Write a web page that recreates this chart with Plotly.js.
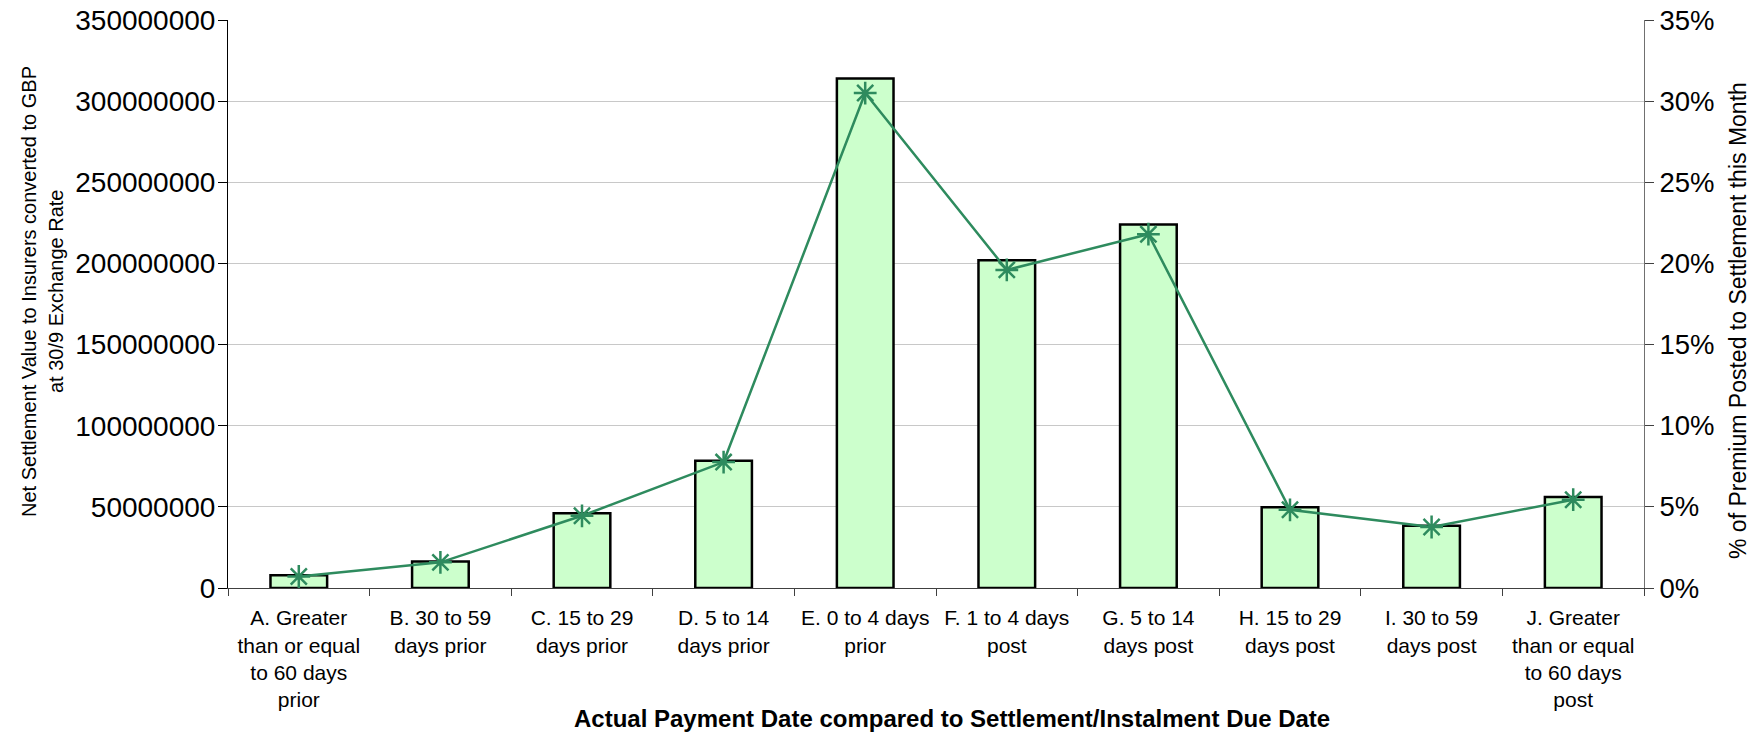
<!DOCTYPE html>
<html>
<head>
<meta charset="utf-8">
<script src="https://cdn.plot.ly/plotly-3.0.1.min.js"></script>
<style>html,body{margin:0;padding:0;background:#fff;}#chart{width:1760px;height:733px;}</style>
</head>
<body>
<div id="chart"></div>
<script>
// Data
const categories = [
  "A. Greater<br>than or equal<br>to 60 days<br>prior",
  "B. 30 to 59<br>days prior",
  "C. 15 to 29<br>days prior",
  "D. 5 to 14<br>days prior",
  "E. 0 to 4 days<br>prior",
  "F. 1 to 4 days<br>post",
  "G. 5 to 14<br>days post",
  "H. 15 to 29<br>days post",
  "I. 30 to 59<br>days post",
  "J. Greater<br>than or equal<br>to 60 days<br>post"
];
const netSettlementGBP = [7800000, 16400000, 46000000, 78400000, 314000000, 202000000, 224000000, 49700000, 38400000, 56100000];
const pctPremiumPosted = [0.71, 1.58, 4.45, 7.76, 30.5, 19.6, 21.8, 4.82, 3.76, 5.44];

const leftTitleLine1 = "Net Settlement Value to Insurers converted to GBP";
const leftTitleLine2 = "at 30/9 Exchange Rate";
const rightTitle = "% of Premium Posted to Settlement this Month";
const xTitle = "Actual Payment Date compared to Settlement/Instalment Due Date";

const FONT = "Liberation Sans, Arial, sans-serif";
const L = 228, R = 1644, T = 20, B = 588;
const W = R - L;
function px2paper(px){ return (px - L) / W; }
function py2paper(py){ return (B - py) / (B - T); }

const traces = [
  {
    type: "bar", x: categories, y: netSettlementGBP, yaxis: "y",
    marker: {color: "#CCFFCC", line: {color: "#000000", width: 2.5}},
    hoverinfo: "x+y"
  },
  {
    type: "scatter", mode: "lines+markers", x: categories, y: pctPremiumPosted, yaxis: "y2",
    line: {color: "#2E8B5E", width: 2.5},
    marker: {symbol: "asterisk-open", size: 19, color: "#2E8B5E", line: {color: "#2E8B5E", width: 2.5}}
  }
];

const layout = {
  width: 1760, height: 733,
  margin: {l: L, r: 1760 - R, t: T, b: 733 - B, pad: 0},
  paper_bgcolor: "#ffffff", plot_bgcolor: "#ffffff",
  showlegend: false,
  bargap: 0.6,
  font: {family: FONT, color: "#000000"},
  xaxis: {
    type: "category",
    range: [-0.5, 9.5], autorange: false,
    tickson: "boundaries",
    ticks: "outside", ticklen: 7, tickcolor: "#404040", tickwidth: 1,
    showline: true, linecolor: "#404040", linewidth: 1,
    showgrid: false, zeroline: false,
    tickfont: {family: FONT, size: 21, color: "#000000"},
    ticklabelstandoff: 11,
    tickangle: 0,
    automargin: false
  },
  yaxis: {
    range: [0, 350000000], autorange: false, dtick: 50000000, tick0: 0,
    tickformat: "d",
    ticks: "outside", ticklen: 9, tickcolor: "#000000", tickwidth: 1,
    showline: true, linecolor: "#000000", linewidth: 1,
    showgrid: true, gridcolor: "#c8c8c8", gridwidth: 1,
    zeroline: false,
    tickfont: {family: FONT, size: 28, color: "#000000"},
    ticklabelstandoff: -3,
    automargin: false
  },
  yaxis2: {
    overlaying: "y", side: "right", anchor: "x",
    range: [0, 35], autorange: false, dtick: 5, tick0: 0, ticksuffix: "%",
    ticks: "outside", ticklen: 9, tickcolor: "#404040", tickwidth: 1,
    showline: true, linecolor: "#707070", linewidth: 1,
    showgrid: false, zeroline: false,
    tickfont: {family: FONT, size: 27.5, color: "#000000"},
    automargin: false
  },
  yaxis3: {
    overlaying: "y", side: "right", anchor: "x",
    range: [0, 35], autorange: false, dtick: 5, tick0: 0,
    ticks: "inside", ticklen: 9, tickcolor: "#404040", tickwidth: 1,
    showticklabels: false, showline: false, showgrid: false, zeroline: false
  },
  annotations: [
    {text: leftTitleLine1, xref: "paper", yref: "paper", x: px2paper(29), y: py2paper(292),
     xanchor: "center", yanchor: "middle", textangle: -90, showarrow: false,
     font: {family: FONT, size: 20, color: "#000000"}},
    {text: leftTitleLine2, xref: "paper", yref: "paper", x: px2paper(56), y: py2paper(292),
     xanchor: "center", yanchor: "middle", textangle: -90, showarrow: false,
     font: {family: FONT, size: 20, color: "#000000"}},
    {text: rightTitle, xref: "paper", yref: "paper", x: px2paper(1738), y: py2paper(321),
     xanchor: "center", yanchor: "middle", textangle: -90, showarrow: false,
     font: {family: FONT, size: 23, color: "#000000"}},
    {text: "<b>" + xTitle + "</b>", xref: "paper", yref: "paper", x: px2paper(952), y: py2paper(718),
     xanchor: "center", yanchor: "middle", showarrow: false,
     font: {family: FONT, size: 24, color: "#000000"}}
  ]
};

Plotly.newPlot("chart", traces, layout, {displayModeBar: false, staticPlot: true});
</script>
</body>
</html>
